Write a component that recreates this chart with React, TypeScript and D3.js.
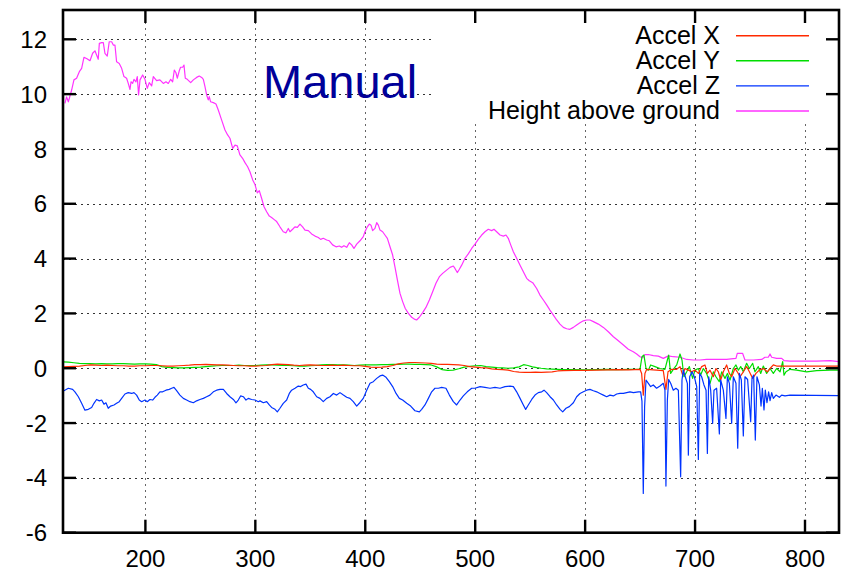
import React from "react";
import * as d3 from "d3";

type Pt = [number, number];

const xTicks = [200, 300, 400, 500, 600, 700, 800];
const yTicks = [-6, -4, -2, 0, 2, 4, 6, 8, 10, 12];
const legendLabels = ["Accel X", "Accel Y", "Accel Z", "Height above ground"];
const seriesColors = ["#ff2a00", "#00dd00", "#0033ff", "#ff33ff"];
const titleLabel = "Manual";

const heightAboveGround: Pt[] = [
  [126.8, 9.66], [128.3, 9.9], [129.9, 9.72], [132.9, 10.15], [135, 10.52], [137.4, 10.58], [139.9, 10.82], [142, 10.94],
  [144.1, 11.34], [146.5, 11.3], [149.6, 11.22], [152, 11.49], [154.1, 11.58], [155.6, 11.43], [157.1, 11.27], [158.1, 11.85],
  [160.2, 11.88], [161.7, 11.88], [163.2, 11.49], [165.3, 11.39], [167.1, 11.91], [169.3, 11.91], [170.8, 11.79], [172.3, 11.79],
  [173.8, 11.18], [176.2, 11.12], [178.4, 10.94], [180.5, 10.64], [182.9, 10.58], [184.4, 10.39], [186, 10.17], [186.9, 10.45],
  [188.4, 10.39], [189.6, 10.54], [191.4, 10.45], [192.6, 10.64], [193.8, 9.97], [195.1, 10.52], [197.5, 10.7], [199.6, 10.54],
  [201.7, 10.21], [203.5, 10.42], [205.7, 10.3], [207.2, 10.64], [210.2, 10.49], [213.2, 10.52], [216.3, 10.39], [218.7, 10.45],
  [220.8, 10.39], [223, 10.54], [224.8, 10.45], [226.3, 10.88], [227.8, 10.78], [229, 10.58], [230.8, 10.85], [232, 10.98],
  [233.9, 10.98], [235.1, 11.06], [236.3, 10.58], [238.1, 10.54], [241.2, 10.42], [243.6, 10.52], [246.6, 10.61], [249, 10.66],
  [251.2, 10.61], [252.7, 10.54], [254.2, 10.27], [255.7, 9.97], [257.2, 9.79], [258.1, 9.91], [259.3, 9.72], [261.8, 9.69],
  [264.2, 9.64], [266.3, 9.42], [269.3, 9.06], [272.4, 8.69], [274.8, 8.51], [276.9, 8.39], [279.4, 8.02], [281.5, 8.14],
  [283.6, 8.11], [286, 7.78], [288.4, 7.66], [290.6, 7.5], [293, 7.35], [295.1, 7.17], [297.6, 6.87], [299.7, 6.7],
  [301.8, 6.4], [303.6, 6.48], [305.7, 6.2], [307.9, 5.89], [310.3, 5.71], [312.7, 5.55], [314.8, 5.5], [316.9, 5.43],
  [319.4, 5.35], [322.4, 5.16], [325.4, 4.98], [327.9, 4.94], [330, 5.1], [331.5, 4.98], [333.9, 5.07], [336, 5.16],
  [338.2, 5.14], [340.6, 5.26], [343, 5.16], [345.2, 5.04], [348.2, 5.02], [351.2, 4.9], [354.3, 4.82], [357.3, 4.77],
  [359.4, 4.7], [361.8, 4.74], [364.9, 4.68], [367.3, 4.65], [370.3, 4.5], [373.4, 4.43], [376.4, 4.46], [378.5, 4.41],
  [380.6, 4.47], [383.1, 4.41], [385.5, 4.58], [387.6, 4.5], [389.7, 4.37], [392.2, 4.53], [395.2, 4.65], [398.2, 4.8],
  [399.7, 4.98], [401.9, 5.16], [403.7, 5.26], [405.2, 5.22], [406.7, 5.02], [408.8, 5.1], [410.4, 5.31], [411.9, 5.22],
  [413.4, 5.04], [415.8, 4.98], [417.9, 4.86], [420.1, 4.74], [422.5, 4.43], [424.9, 4.13], [427, 3.7], [429.2, 3.22],
  [431.6, 2.73], [434, 2.43], [436.4, 2.18], [439.2, 2.0], [442.2, 1.86], [445.2, 1.78], [446.7, 1.76], [449.2, 1.86],
  [452.2, 2.03], [455.2, 2.22], [458.3, 2.49], [461.3, 2.79], [464.3, 3.1], [467.4, 3.34], [470.4, 3.46], [474, 3.58],
  [477.1, 3.68], [480.1, 3.73], [481.6, 3.64], [483.7, 3.49], [485.6, 3.61], [487.7, 3.76], [490.7, 4.01], [493.7, 4.17],
  [496.8, 4.37], [499.8, 4.53], [502.8, 4.7], [505.9, 4.86], [508.9, 4.98], [511.9, 5.07], [515, 5.02], [517.1, 5.07],
  [519.5, 4.98], [522.6, 4.86], [525.6, 4.82], [528, 4.86], [530.1, 4.74], [532.3, 4.5], [534.7, 4.25], [537.7, 4.01],
  [540.8, 3.76], [543.8, 3.52], [546.8, 3.28], [549.2, 3.19], [552.3, 3.12], [555.9, 2.91], [558.9, 2.67], [562, 2.49],
  [565, 2.31], [568, 2.12], [571.1, 1.94], [574.1, 1.76], [577.1, 1.61], [580.2, 1.49], [583.2, 1.44], [586.2, 1.42],
  [589.3, 1.49], [592.3, 1.58], [595.3, 1.66], [598.4, 1.73], [601.4, 1.76], [604.4, 1.76], [607.5, 1.7], [612, 1.61],
  [616.6, 1.49], [621.1, 1.33], [625.7, 1.15], [630.2, 1.0], [634.8, 0.85], [639.3, 0.69], [643.8, 0.6], [646.9, 0.52],
  [649.9, 0.42], [652.3, 0.38], [654.4, 0.5], [657.5, 0.5], [662, 0.46], [666.6, 0.44], [671.1, 0.36], [675.7, 0.45],
  [680.2, 0.42], [686.3, 0.4], [692.4, 0.32], [698.4, 0.3], [704.5, 0.3], [710.5, 0.32], [716.6, 0.32], [722.7, 0.32],
  [728.7, 0.32], [734.8, 0.35], [737.2, 0.36], [738.4, 0.54], [743.3, 0.54], [745.4, 0.3], [753, 0.3], [760.6, 0.32],
  [763.6, 0.4], [766.6, 0.4], [768.2, 0.52], [769.7, 0.4], [774.2, 0.36], [778.8, 0.36], [780.9, 0.28], [786.4, 0.26],
  [798.5, 0.26], [810.6, 0.26], [822.7, 0.28], [831, 0.24],
];

const accelX: Pt[] = [
  [125, 0.05], [130, 0.06], [135, 0.07], [140, 0.08], [145, 0.1], [150, 0.12], [155, 0.11], [160, 0.1], [165, 0.11],
  [170, 0.1], [175, 0.09], [180, 0.09], [185, 0.08], [190, 0.08], [195, 0.09], [200, 0.09], [205, 0.1], [210, 0.1],
  [215, 0.09], [220, 0.08], [225, 0.08], [230, 0.09], [235, 0.1], [240, 0.11], [245, 0.13], [250, 0.13], [255, 0.14],
  [260, 0.13], [265, 0.12], [270, 0.12], [275, 0.11], [280, 0.1], [285, 0.09], [290, 0.09], [295, 0.08], [300, 0.08],
  [305, 0.09], [310, 0.1], [315, 0.13], [320, 0.15], [325, 0.14], [330, 0.13], [335, 0.11], [340, 0.1], [345, 0.11],
  [350, 0.12], [355, 0.11], [360, 0.1], [365, 0.1], [370, 0.11], [375, 0.1], [380, 0.11], [385, 0.1], [390, 0.09],
  [395, 0.09], [400, 0.07], [405, 0.04], [410, 0.03], [415, 0.04], [420, 0.06], [425, 0.1], [430, 0.16], [435, 0.19],
  [440, 0.21], [445, 0.21], [450, 0.2], [455, 0.19], [460, 0.18], [465, 0.15], [470, 0.14], [475, 0.14], [480, 0.13],
  [485, 0.12], [490, 0.1], [495, 0.06], [500, 0.04], [505, 0.02], [510, 0.01], [515, -0.02], [520, -0.04], [525, -0.05],
  [530, -0.07], [535, -0.12], [540, -0.14], [545, -0.15], [550, -0.15], [555, -0.14], [560, -0.15], [565, -0.14],
  [570, -0.13], [575, -0.1], [580, -0.09], [590, -0.08], [600, -0.08], [610, -0.07], [620, -0.06], [630, -0.05],
  [640, -0.06], [649.9, -0.04], [651.4, -0.19], [652.9, -0.98], [654.4, -0.19], [656, -0.04], [665, -0.07], [671.1, -0.09],
  [673.5, -0.77], [675.4, -0.13], [678.7, -0.04], [683.3, -0.04], [686.3, 0.06], [688.7, -0.25], [690.8, -0.01],
  [693.9, -0.07], [696.9, -0.13], [699.9, -0.07], [703, -0.19], [706, 0.06], [709, 0.12], [711.2, -0.19], [713.6, -0.07],
  [716.6, -0.31], [719, -0.01], [721.2, -0.13], [723.3, -0.43], [725.7, -0.13], [728.7, 0.12], [731.2, -0.19],
  [733.3, -0.31], [736.3, -0.01], [738.4, -0.13], [740.9, -0.31], [743.9, -0.13], [746.9, 0.06], [749.4, -0.13],
  [752.4, -0.37], [755.4, -0.19], [758.5, -0.07], [762.1, -0.01], [765.7, -0.13], [768.2, -0.01], [771.2, 0.12],
  [774.2, 0.08], [780.3, 0.08], [831, 0.08],
];

const accelY: Pt[] = [
  [125, 0.23], [130, 0.22], [135, 0.2], [140, 0.18], [145, 0.17], [150, 0.17], [155, 0.16], [160, 0.17], [165, 0.16],
  [170, 0.16], [175, 0.17], [180, 0.17], [185, 0.16], [190, 0.15], [195, 0.16], [200, 0.16], [205, 0.15], [210, 0.13],
  [215, 0.06], [220, 0.03], [225, 0.02], [230, 0.01], [235, 0.01], [240, 0.02], [245, 0.03], [250, 0.04], [255, 0.06],
  [260, 0.08], [265, 0.09], [270, 0.1], [275, 0.1], [280, 0.1], [285, 0.11], [290, 0.1], [295, 0.1], [300, 0.1],
  [305, 0.11], [310, 0.12], [315, 0.12], [320, 0.11], [325, 0.1], [330, 0.1], [335, 0.09], [340, 0.08], [345, 0.08],
  [350, 0.09], [355, 0.1], [360, 0.12], [365, 0.13], [370, 0.13], [375, 0.12], [380, 0.12], [385, 0.11], [390, 0.1],
  [395, 0.11], [400, 0.12], [405, 0.12], [410, 0.12], [415, 0.13], [420, 0.13], [425, 0.14], [430, 0.14], [435, 0.15],
  [440, 0.15], [445, 0.14], [450, 0.14], [455, 0.13], [460, 0.12], [465, 0.05], [470, -0.05], [475, -0.08], [480, -0.07],
  [485, -0.02], [490, 0.04], [495, 0.07], [500, 0.09], [505, 0.1], [510, 0.06], [515, 0.04], [520, 0.02], [525, 0.01],
  [530, 0.0], [535, 0.01], [540, 0.05], [544, 0.13], [548, 0.1], [552, 0.05], [556, 0.02], [560, 0.0], [565, -0.02],
  [570, -0.03], [575, -0.04], [580, -0.05], [590, -0.05], [600, -0.06], [610, -0.05], [620, -0.04], [630, -0.05],
  [640.8, -0.04], [649.9, -0.04], [651.7, 0.42], [653.5, 0.48], [655.4, -0.01], [657.5, -0.07], [659.6, 0.12],
  [663.5, 0.06], [668.1, -0.01], [672.6, -0.04], [674.8, 0.3], [676, 0.48], [677.8, -0.19], [680.2, -0.04], [683.3, 0.12],
  [686.3, 0.52], [688.1, 0.3], [689.9, -0.31], [692.4, -0.13], [694.8, 0.06], [697.8, -0.37], [699.9, -0.07],
  [703, -0.01], [705.1, -0.25], [707.5, -0.01], [710.5, -0.19], [713.6, -0.55], [716.6, -0.13], [719, -0.31],
  [722, -0.49], [724.2, -0.13], [727.2, -0.37], [729.4, -0.19], [731.8, -0.43], [734.8, -0.01], [737.2, 0.12],
  [739.4, -0.07], [741.5, 0.06], [743.9, -0.13], [746.9, 0.18], [749.4, -0.01], [752.4, 0.18], [754.5, -0.13],
  [757.5, 0.06], [759.7, -0.19], [762.1, 0.08], [765.1, -0.19], [768.2, -0.01], [771.2, -0.19], [774.2, -0.01],
  [777.3, -0.13], [779.7, 0.24], [780.9, -0.25], [782.7, -0.13], [786.4, -0.04], [792.4, -0.07], [801.5, -0.13],
  [810.6, -0.09], [822.7, -0.07], [831, -0.07],
];

const accelZ: Pt[] = [
  [125.9, -0.82], [129.9, -0.73], [133.8, -0.77], [135.9, -0.86], [139, -1.04], [142, -1.28], [145, -1.53], [148.1, -1.5],
  [151.1, -1.43], [153.2, -1.28], [155.6, -1.14], [158.1, -1.19], [160.2, -1.16], [162.3, -1.31], [164.1, -1.26],
  [166.2, -1.46], [168.4, -1.38], [171.4, -1.34], [173.8, -1.28], [176.2, -1.22], [178.4, -1.1], [181.4, -0.94],
  [184.4, -0.89], [187.5, -0.92], [189.6, -0.89], [192, -0.98], [194.4, -1.16], [196.6, -1.22], [199.6, -1.16],
  [201.7, -1.22], [204.1, -1.14], [206.6, -1.16], [208.7, -1.06], [210.8, -0.98], [213.2, -0.86], [215.7, -0.86],
  [218.7, -0.8], [221.7, -0.77], [223.9, -0.73], [226, -0.7], [228.4, -0.82], [231.4, -0.98], [234.5, -1.1],
  [237.5, -1.16], [240.5, -1.22], [243.6, -1.26], [246.6, -1.19], [249.6, -1.14], [252.7, -1.1], [255.7, -1.04],
  [258.7, -0.98], [261.8, -0.86], [264.8, -0.8], [267.8, -0.77], [270.9, -0.77], [273.9, -0.92], [276.9, -1.04],
  [280, -1.14], [282.4, -1.26], [284.5, -1.16], [286.6, -1.01], [289.1, -1.04], [291.5, -1.16], [293.6, -1.1],
  [296.6, -1.14], [299.7, -1.16], [302.7, -1.22], [304.2, -1.19], [307.3, -1.26], [310.3, -1.22], [312.7, -1.34],
  [314.8, -1.43], [317.9, -1.5], [320, -1.59], [322.4, -1.46], [325.4, -1.28], [328.5, -1.16], [330.9, -0.92],
  [333, -0.8], [336.1, -0.73], [339.1, -0.65], [341.2, -0.67], [343.6, -0.61], [346.1, -0.58], [348.2, -0.73],
  [350.3, -0.77], [352.7, -0.86], [355.8, -1.04], [358.8, -1.1], [361.8, -1.22], [364.9, -1.1], [367.9, -1.04],
  [371, -0.92], [374, -0.98], [377, -0.89], [380.1, -0.98], [383.1, -1.06], [386.1, -1.1], [389.1, -1.22], [392.2, -1.38],
  [395.2, -1.25], [398.2, -1.1], [401.3, -0.8], [404.3, -0.55], [407.3, -0.49], [410.4, -0.37], [413.4, -0.28],
  [415.8, -0.25], [418.9, -0.33], [421.9, -0.49], [424.9, -0.67], [428, -0.92], [431, -1.1], [434, -1.16], [437.7, -1.28],
  [441.3, -1.38], [445.2, -1.55], [449.2, -1.59], [451.3, -1.5], [454.3, -1.34], [457.4, -1.1], [460.4, -0.86],
  [463.4, -0.73], [466.5, -0.73], [469.5, -0.7], [473.4, -0.73], [476.5, -0.98], [480.1, -1.22], [483.1, -1.34],
  [486.2, -1.16], [489.2, -1.01], [492.8, -0.86], [496.8, -0.73], [499.8, -0.73], [504.4, -0.67], [508.9, -0.7],
  [513.5, -0.73], [518, -0.7], [522.6, -0.73], [527.1, -0.67], [531.7, -0.65], [534.7, -0.67], [537.7, -0.86],
  [540.8, -1.1], [543.8, -1.34], [545.9, -1.5], [548.3, -1.34], [551.4, -1.14], [554.4, -0.98], [557.4, -0.89],
  [560.5, -0.86], [562.6, -0.8], [565, -0.89], [568.1, -1.04], [571.1, -1.16], [574.1, -1.34], [577.2, -1.5],
  [579.6, -1.59], [582.6, -1.46], [585.6, -1.4], [589.3, -1.26], [592.3, -1.04], [595.3, -0.92], [598.4, -0.86],
  [601.4, -0.8], [604.4, -0.77], [607.5, -0.82], [610.5, -0.86], [613.5, -0.92], [616.6, -0.98], [619.6, -1.04],
  [622.6, -0.98], [625.7, -1.01], [628.7, -0.94], [631.7, -0.92], [634.8, -0.92], [637.8, -0.89], [640.8, -0.86],
  [643.9, -0.89], [648.4, -0.86], [650.5, -0.86], [651.7, -1.2], [652.9, -4.57], [654.1, -1.4], [655.4, -0.43],
  [657.5, -0.55], [659.6, -0.67], [662, -0.61], [665, -0.73], [668.1, -0.65], [671.1, -0.55], [672.6, -0.8],
  [673.5, -4.3], [674.8, -1.16], [676, -0.41], [677.8, -0.55], [680.2, -0.8], [682.6, -0.73], [684.8, -0.8],
  [686.9, -3.96], [688.1, -0.43], [689.3, -0.07], [691.1, -0.31], [693, -0.55], [693.9, -3.17], [695.1, -0.31],
  [697.2, -0.13], [699.3, -0.31], [701.5, -0.67], [703, -3.33], [704.2, -0.19], [706, -0.31], [708.1, -0.61],
  [710, -0.8], [711.2, -3.11], [712.4, -0.31], [714.2, -0.8], [716, -2.01], [717.2, -0.8], [719.6, -0.73],
  [722.1, -2.4], [723.3, -0.43], [725.7, -0.8], [728.1, -1.83], [729.4, -0.31], [731.2, -0.55], [733.3, -2.01],
  [734.8, -0.31], [737.2, -0.55], [738.8, -2.92], [740.3, -0.19], [742.1, -0.43], [743.9, -2.47], [745.4, -0.31],
  [747.8, -0.41], [750.6, -1.95], [751.8, -0.37], [753.3, -0.25], [754.8, -2.62], [756.3, -0.31], [758.5, -0.61],
  [760, -1.38], [761.2, -0.73], [762.7, -1.52], [763.9, -0.8], [765.4, -1.26], [766.9, -0.86], [768.2, -1.18],
  [769.7, -0.89], [771.2, -1.1], [773.6, -0.98], [776.7, -1.06], [778.8, -0.98], [781.8, -1.01], [786.4, -0.98],
  [831, -1.0],
];

const seriesData: Pt[][] = [accelX, accelY, accelZ, heightAboveGround];
const drawOrder = [3, 1, 0, 2];

const W = 846;
const H = 573;
const LEFT = 63;
const RIGHT = 839;
const TOP = 10;
const BOTTOM = 532.7;
const FONT = "Arial, 'Liberation Sans', Helvetica, sans-serif";

export default function App() {
  const x = d3.scaleLinear().domain([200, 800]).range([145.4, 805]);
  const y = d3.scaleLinear().domain([-6, 12]).range([BOTTOM, 39.3]);
  const line = d3
    .line<Pt>()
    .x((d) => x(d[0]))
    .y((d) => y(d[1]));

  const tickLen = 13;
  const legendRowY = (i: number) => 35.7 + i * 25.1;

  return (
    <svg
      width={W}
      height={H}
      style={{ position: "absolute", left: 0, top: 0, background: "#fff" }}
      fontFamily={FONT}
    >
      <rect x={0} y={0} width={W} height={H} fill="#fff" />
      <defs>
        <clipPath id="plotclip">
          <rect x={LEFT} y={TOP} width={RIGHT - LEFT} height={BOTTOM - TOP} />
        </clipPath>
      </defs>
      {/* grid */}
      <g stroke="#333" strokeWidth={1} strokeDasharray="2,4">
        {yTicks
          .filter((t) => t !== -6)
          .map((t) => (
            <line key={"gy" + t} x1={LEFT} x2={RIGHT} y1={Math.round(y(t)) + 0.5} y2={Math.round(y(t)) + 0.5} />
          ))}
        {xTicks.map((t) => (
          <line key={"gx" + t} x1={Math.round(x(t)) + 0.5} x2={Math.round(x(t)) + 0.5} y1={TOP} y2={BOTTOM} stroke="#666" />
        ))}
      </g>
      {/* legend box background */}
      <rect x={435} y={TOP} width={RIGHT - 435} height={123 - TOP} fill="#fff" />
      {/* data */}
      <g clipPath="url(#plotclip)" fill="none" strokeWidth={1.2} strokeLinejoin="round">
        {drawOrder.map((i) => (
          <path key={"s" + i} d={line(seriesData[i]) || ""} stroke={seriesColors[i]} />
        ))}
      </g>
      {/* frame + ticks */}
      <g stroke="#000" strokeWidth={2.4}>
        {yTicks.map((t) => (
          <g key={"ty" + t}>
            <line x1={LEFT} x2={LEFT + tickLen} y1={y(t)} y2={y(t)} />
            <line x1={RIGHT - tickLen} x2={RIGHT} y1={y(t)} y2={y(t)} />
          </g>
        ))}
        {xTicks.map((t) => (
          <g key={"tx" + t}>
            <line x1={x(t)} x2={x(t)} y1={BOTTOM} y2={BOTTOM - tickLen} />
            <line x1={x(t)} x2={x(t)} y1={TOP} y2={TOP + tickLen} />
          </g>
        ))}
        <rect x={LEFT} y={TOP} width={RIGHT - LEFT} height={BOTTOM - TOP} fill="none" strokeWidth={2.6} />
      </g>
      {/* tick labels */}
      <g fontSize={24} fill="#000">
        {yTicks.map((t) => (
          <text key={"ly" + t} x={47} y={y(t) + 8.6} textAnchor="end">
            {t}
          </text>
        ))}
        {xTicks.map((t) => (
          <text key={"lx" + t} x={x(t)} y={567} textAnchor="middle">
            {t}
          </text>
        ))}
      </g>
      {/* legend */}
      <g fontSize={25}>
        {legendLabels.map((lab, i) => (
          <g key={"lg" + i}>
            <text x={720} y={legendRowY(i) + 8.4} textAnchor="end" fill="#000">
              {lab}
            </text>
            <line x1={736} x2={809} y1={legendRowY(i)} y2={legendRowY(i)} stroke={seriesColors[i]} strokeWidth={1.4} />
          </g>
        ))}
      </g>
      <text x={263} y={98} fontSize={47} fill="#000099">
        {titleLabel}
      </text>
    </svg>
  );
}
